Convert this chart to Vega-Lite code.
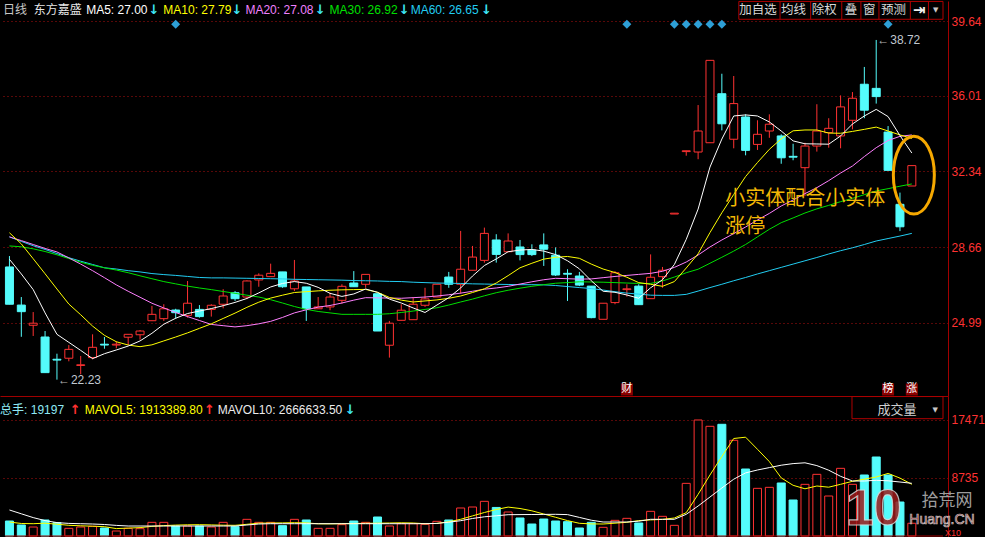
{
  "$schema": "https://vega.github.io/schema/vega-lite/v6.json",
  "background": "#000000",
  "padding": 0,
  "spacing": 0,
  "config": {"view": {"stroke": null}, "font": "Liberation Sans, Noto Sans CJK SC"},
  "datasets": {
    "k": [
      {"i":0,"o":27.70,"h":28.23,"l":25.89,"c":25.89,"v":2259,"m5":28.07,"m10":29.36,"m20":29.16,"m30":28.72,"m60":29.16,"mv5":2108,"mv10":3916},
      {"i":1,"o":25.85,"h":26.24,"l":24.31,"c":25.53,"v":1657,"m5":27.36,"m10":28.82,"m20":28.98,"m30":28.68,"m60":28.94,"mv5":1883,"mv10":3343},
      {"i":2,"o":24.87,"h":25.51,"l":24.35,"c":24.97,"v":1355,"m5":26.60,"m10":28.10,"m20":28.79,"m30":28.58,"m60":28.73,"mv5":1852,"mv10":2771},
      {"i":3,"o":24.30,"h":24.59,"l":22.57,"c":22.57,"v":2410,"m5":25.47,"m10":27.37,"m20":28.60,"m30":28.45,"m60":28.55,"mv5":1928,"mv10":2319},
      {"i":4,"o":23.22,"h":23.49,"l":22.23,"c":23.18,"v":2008,"m5":24.43,"m10":26.63,"m20":28.43,"m30":28.29,"m60":28.35,"mv5":1777,"mv10":2018},
      {"i":5,"o":23.27,"h":23.91,"l":23.12,"c":23.70,"v":1155,"m5":24.04,"m10":25.90,"m20":28.14,"m30":28.11,"m60":28.15,"mv5":1611,"mv10":1898},
      {"i":6,"o":22.92,"h":23.38,"l":22.49,"c":22.95,"v":1355,"m5":23.65,"m10":25.38,"m20":27.84,"m30":27.93,"m60":27.98,"mv5":1536,"mv10":1852},
      {"i":7,"o":23.30,"h":24.43,"l":23.22,"c":23.80,"v":1455,"m5":23.25,"m10":24.83,"m20":27.52,"m30":27.78,"m60":27.82,"mv5":1476,"mv10":1807},
      {"i":8,"o":23.95,"h":24.30,"l":23.73,"c":23.91,"v":1205,"m5":23.49,"m10":24.38,"m20":27.18,"m30":27.66,"m60":27.66,"mv5":1401,"mv10":1732},
      {"i":9,"o":23.91,"h":24.09,"l":23.75,"c":23.95,"v":753,"m5":23.67,"m10":24.07,"m20":26.83,"m30":27.55,"m60":27.60,"mv5":1114,"mv10":1596},
      {"i":10,"o":24.29,"h":24.43,"l":23.91,"c":24.43,"v":1155,"m5":23.86,"m10":23.91,"m20":26.52,"m30":27.42,"m60":27.52,"mv5":1190,"mv10":1506},
      {"i":11,"o":24.41,"h":24.64,"l":24.17,"c":24.59,"v":1104,"m5":24.11,"m10":23.83,"m20":26.23,"m30":27.27,"m60":27.46,"mv5":1265,"mv10":1506},
      {"i":12,"o":25.09,"h":25.81,"l":25.09,"c":25.40,"v":2058,"m5":24.48,"m10":23.92,"m20":25.94,"m30":27.13,"m60":27.38,"mv5":1446,"mv10":1506},
      {"i":13,"o":25.19,"h":25.89,"l":25.08,"c":25.67,"v":2058,"m5":24.92,"m10":24.11,"m20":25.71,"m30":26.99,"m60":27.33,"mv5":1566,"mv10":1506},
      {"i":14,"o":25.61,"h":25.67,"l":25.19,"c":25.48,"v":1506,"m5":25.21,"m10":24.30,"m20":25.49,"m30":26.88,"m60":27.29,"mv5":1642,"mv10":1506},
      {"i":15,"o":25.35,"h":27.02,"l":25.24,"c":25.94,"v":1506,"m5":25.44,"m10":24.50,"m20":25.29,"m30":26.77,"m60":27.24,"mv5":1687,"mv10":1506},
      {"i":16,"o":25.64,"h":25.85,"l":25.24,"c":25.29,"v":1506,"m5":25.56,"m10":24.72,"m20":25.10,"m30":26.68,"m60":27.19,"mv5":1702,"mv10":1506},
      {"i":17,"o":25.64,"h":25.89,"l":25.29,"c":25.84,"v":1355,"m5":25.68,"m10":24.94,"m20":24.91,"m30":26.60,"m60":27.17,"mv5":1672,"mv10":1506},
      {"i":18,"o":25.89,"h":26.62,"l":25.69,"c":26.29,"v":2058,"m5":25.82,"m10":25.20,"m20":24.85,"m30":26.51,"m60":27.17,"mv5":1626,"mv10":1506},
      {"i":19,"o":26.45,"h":26.53,"l":26.05,"c":26.16,"v":1405,"m5":25.98,"m10":25.46,"m20":24.79,"m30":26.42,"m60":27.16,"mv5":1611,"mv10":1506},
      {"i":20,"o":26.24,"h":27.05,"l":26.14,"c":27.02,"v":2510,"m5":26.17,"m10":25.74,"m20":24.85,"m30":26.33,"m60":27.15,"mv5":1762,"mv10":1657},
      {"i":21,"o":27.07,"h":27.39,"l":26.74,"c":27.30,"v":2058,"m5":26.44,"m10":25.99,"m20":24.94,"m30":26.24,"m60":27.14,"mv5":1928,"mv10":1807},
      {"i":22,"o":27.23,"h":27.86,"l":27.23,"c":27.39,"v":2058,"m5":26.73,"m10":26.19,"m20":25.06,"m30":26.11,"m60":27.13,"mv5":1958,"mv10":1852},
      {"i":23,"o":27.46,"h":27.46,"l":26.69,"c":26.74,"v":1556,"m5":26.90,"m10":26.33,"m20":25.25,"m30":25.95,"m60":27.12,"mv5":1973,"mv10":1852},
      {"i":24,"o":26.64,"h":28.04,"l":26.53,"c":27.02,"v":2510,"m5":26.99,"m10":26.46,"m20":25.47,"m30":25.78,"m60":27.10,"mv5":2003,"mv10":1852},
      {"i":25,"o":26.73,"h":26.73,"l":25.08,"c":25.67,"v":2410,"m5":26.91,"m10":26.50,"m20":25.62,"m30":25.64,"m60":27.09,"mv5":1973,"mv10":1852},
      {"i":26,"o":25.67,"h":26.24,"l":25.67,"c":25.76,"v":1155,"m5":26.71,"m10":26.54,"m20":25.75,"m30":25.54,"m60":27.08,"mv5":1837,"mv10":1852},
      {"i":27,"o":25.76,"h":26.45,"l":25.60,"c":26.24,"v":1155,"m5":26.42,"m10":26.57,"m20":25.83,"m30":25.47,"m60":27.07,"mv5":1822,"mv10":1852},
      {"i":28,"o":26.08,"h":26.86,"l":25.92,"c":26.76,"v":1707,"m5":26.27,"m10":26.59,"m20":25.95,"m30":25.40,"m60":27.06,"mv5":1852,"mv10":1852},
      {"i":29,"o":26.92,"h":27.50,"l":26.74,"c":26.74,"v":2259,"m5":26.39,"m10":26.60,"m20":26.09,"m30":25.40,"m60":27.04,"mv5":1883,"mv10":1852},
      {"i":30,"o":26.86,"h":27.34,"l":26.69,"c":27.34,"v":2058,"m5":26.63,"m10":26.61,"m20":26.21,"m30":25.40,"m60":27.03,"mv5":1913,"mv10":1852},
      {"i":31,"o":26.40,"h":26.42,"l":24.59,"c":24.59,"v":2861,"m5":26.47,"m10":26.47,"m20":26.20,"m30":25.40,"m60":27.02,"mv5":1928,"mv10":1852},
      {"i":32,"o":23.90,"h":25.08,"l":23.30,"c":24.97,"v":1506,"m5":26.14,"m10":26.22,"m20":26.19,"m30":25.43,"m60":27.00,"mv5":1958,"mv10":1852},
      {"i":33,"o":25.11,"h":25.89,"l":25.11,"c":25.60,"v":1857,"m5":25.95,"m10":26.09,"m20":26.18,"m30":25.49,"m60":26.99,"mv5":1988,"mv10":1852},
      {"i":34,"o":25.14,"h":26.24,"l":25.14,"c":25.89,"v":1857,"m5":25.71,"m10":26.00,"m20":26.21,"m30":25.56,"m60":26.96,"mv5":1958,"mv10":1852},
      {"i":35,"o":25.84,"h":26.69,"l":25.76,"c":26.15,"v":1757,"m5":25.49,"m10":26.05,"m20":26.24,"m30":25.64,"m60":26.94,"mv5":1852,"mv10":1852},
      {"i":36,"o":26.24,"h":26.86,"l":26.24,"c":26.86,"v":2209,"m5":25.85,"m10":26.10,"m20":26.29,"m30":25.72,"m60":26.92,"mv5":1898,"mv10":1898},
      {"i":37,"o":27.21,"h":27.46,"l":26.69,"c":26.86,"v":2410,"m5":26.21,"m10":26.18,"m20":26.35,"m30":25.85,"m60":26.91,"mv5":2139,"mv10":2078},
      {"i":38,"o":26.86,"h":29.45,"l":26.40,"c":27.59,"v":4217,"m5":26.68,"m10":26.29,"m20":26.43,"m30":26.00,"m60":26.90,"mv5":2515,"mv10":2304},
      {"i":39,"o":27.54,"h":28.72,"l":27.54,"c":28.18,"v":4367,"m5":27.26,"m10":26.46,"m20":26.52,"m30":26.14,"m60":26.88,"mv5":3027,"mv10":2636},
      {"i":40,"o":28.02,"h":29.61,"l":27.91,"c":29.33,"v":5220,"m5":27.77,"m10":26.64,"m20":26.62,"m30":26.30,"m60":26.87,"mv5":3539,"mv10":2892},
      {"i":41,"o":29.01,"h":29.29,"l":27.91,"c":28.31,"v":4300,"m5":28.09,"m10":26.92,"m20":26.68,"m30":26.45,"m60":26.86,"mv5":3991,"mv10":3042},
      {"i":42,"o":28.44,"h":29.33,"l":28.44,"c":28.96,"v":3614,"m5":28.44,"m10":27.28,"m20":26.76,"m30":26.57,"m60":26.85,"mv5":4352,"mv10":3208},
      {"i":43,"o":28.67,"h":29.01,"l":28.02,"c":28.30,"v":2711,"m5":28.52,"m10":27.66,"m20":26.87,"m30":26.67,"m60":26.84,"mv5":4141,"mv10":3223},
      {"i":44,"o":28.52,"h":28.80,"l":28.23,"c":28.30,"v":1807,"m5":28.55,"m10":27.88,"m20":26.98,"m30":26.76,"m60":26.84,"mv5":3795,"mv10":3238},
      {"i":45,"o":28.77,"h":29.33,"l":27.75,"c":28.56,"v":2560,"m5":28.47,"m10":28.08,"m20":27.08,"m30":26.84,"m60":26.83,"mv5":3313,"mv10":3253},
      {"i":46,"o":28.27,"h":28.65,"l":27.26,"c":27.31,"v":2259,"m5":28.30,"m10":28.17,"m20":27.15,"m30":26.91,"m60":26.80,"mv5":2816,"mv10":3268},
      {"i":47,"o":27.39,"h":27.59,"l":26.05,"c":27.35,"v":2159,"m5":28.00,"m10":28.21,"m20":27.13,"m30":26.94,"m60":26.75,"mv5":2319,"mv10":3223},
      {"i":48,"o":27.26,"h":27.46,"l":26.77,"c":26.82,"v":1205,"m5":27.61,"m10":28.12,"m20":27.11,"m30":26.98,"m60":26.70,"mv5":1913,"mv10":2801},
      {"i":49,"o":26.77,"h":26.77,"l":25.21,"c":25.24,"v":2058,"m5":27.03,"m10":27.84,"m20":27.12,"m30":26.97,"m60":26.65,"mv5":1822,"mv10":2379},
      {"i":50,"o":25.16,"h":25.94,"l":25.16,"c":25.94,"v":1305,"m5":26.52,"m10":27.60,"m20":27.18,"m30":26.96,"m60":26.58,"mv5":1807,"mv10":2108},
      {"i":51,"o":25.97,"h":27.50,"l":25.89,"c":27.42,"v":2359,"m5":26.47,"m10":27.43,"m20":27.24,"m30":26.94,"m60":26.50,"mv5":1928,"mv10":2108},
      {"i":52,"o":26.60,"h":26.86,"l":26.26,"c":26.64,"v":2661,"m5":26.34,"m10":27.20,"m20":27.29,"m30":26.92,"m60":26.43,"mv5":2063,"mv10":2108},
      {"i":53,"o":26.77,"h":26.86,"l":25.87,"c":25.87,"v":1958,"m5":26.18,"m10":26.94,"m20":27.34,"m30":26.90,"m60":26.38,"mv5":2319,"mv10":2229},
      {"i":54,"o":26.16,"h":28.31,"l":26.16,"c":27.20,"v":3714,"m5":26.69,"m10":26.86,"m20":27.39,"m30":26.90,"m60":26.33,"mv5":2425,"mv10":2515},
      {"i":55,"o":27.23,"h":27.70,"l":26.69,"c":27.54,"v":2962,"m5":27.08,"m10":26.76,"m20":27.49,"m30":27.02,"m60":26.32,"mv5":2500,"mv10":2515},
      {"i":56,"o":30.27,"h":30.31,"l":30.27,"c":30.31,"v":1606,"m5":27.82,"m10":26.99,"m20":27.68,"m30":27.21,"m60":26.32,"mv5":2711,"mv10":2515},
      {"i":57,"o":33.30,"h":33.34,"l":33.10,"c":33.34,"v":7930,"m5":29.04,"m10":27.65,"m20":27.94,"m30":27.42,"m60":26.37,"mv5":3509,"mv10":3268},
      {"i":58,"o":33.28,"h":35.56,"l":32.93,"c":34.30,"v":17471,"m5":30.51,"m10":28.34,"m20":28.28,"m30":27.59,"m60":26.53,"mv5":6280,"mv10":4518},
      {"i":59,"o":33.73,"h":37.73,"l":33.73,"c":37.73,"v":16520,"m5":32.55,"m10":29.37,"m20":28.67,"m30":27.88,"m60":26.70,"mv5":9187,"mv10":5873},
      {"i":60,"o":36.11,"h":37.08,"l":34.33,"c":34.65,"v":16821,"m5":33.91,"m10":30.33,"m20":29.01,"m30":28.17,"m60":26.86,"mv5":11973,"mv10":7229},
      {"i":61,"o":33.90,"h":36.97,"l":33.46,"c":35.63,"v":14413,"m5":35.03,"m10":31.22,"m20":29.32,"m30":28.47,"m60":27.03,"mv5":14684,"mv10":8554},
      {"i":62,"o":34.98,"h":35.11,"l":33.12,"c":33.36,"v":10090,"m5":35.08,"m10":32.09,"m20":29.64,"m30":28.79,"m60":27.19,"mv5":14879,"mv10":9503},
      {"i":63,"o":33.65,"h":34.82,"l":33.38,"c":34.14,"v":7178,"m5":35.03,"m10":32.77,"m20":29.98,"m30":29.16,"m60":27.36,"mv5":13057,"mv10":9940},
      {"i":64,"o":34.30,"h":35.11,"l":33.97,"c":34.63,"v":7330,"m5":34.74,"m10":33.41,"m20":30.30,"m30":29.53,"m60":27.52,"mv5":11205,"mv10":10301},
      {"i":65,"o":34.06,"h":34.14,"l":32.71,"c":33.00,"v":7982,"m5":34.30,"m10":33.92,"m20":30.66,"m30":29.85,"m60":27.68,"mv5":8750,"mv10":10662},
      {"i":66,"o":33.07,"h":33.68,"l":32.88,"c":33.03,"v":5422,"m5":33.82,"m10":34.31,"m20":30.95,"m30":30.08,"m60":27.84,"mv5":7635,"mv10":10903},
      {"i":67,"o":32.52,"h":33.73,"l":31.14,"c":33.57,"v":7780,"m5":33.68,"m10":34.35,"m20":31.26,"m30":30.32,"m60":28.00,"mv5":7108,"mv10":11024},
      {"i":68,"o":33.57,"h":35.60,"l":33.30,"c":34.30,"v":9287,"m5":33.67,"m10":34.35,"m20":31.55,"m30":30.52,"m60":28.16,"mv5":7530,"mv10":10602},
      {"i":69,"o":34.22,"h":34.92,"l":33.49,"c":34.43,"v":6024,"m5":33.66,"m10":34.20,"m20":31.89,"m30":30.69,"m60":28.33,"mv5":7349,"mv10":9909},
      {"i":70,"o":34.06,"h":36.03,"l":33.46,"c":35.47,"v":10190,"m5":34.06,"m10":34.19,"m20":32.26,"m30":30.87,"m60":28.49,"mv5":7786,"mv10":8991},
      {"i":71,"o":34.82,"h":36.19,"l":34.38,"c":35.89,"v":7780,"m5":34.64,"m10":34.28,"m20":32.60,"m30":31.03,"m60":28.63,"mv5":8238,"mv10":8283},
      {"i":72,"o":36.57,"h":37.41,"l":34.92,"c":35.31,"v":9187,"m5":35.03,"m10":34.38,"m20":33.06,"m30":31.21,"m60":28.79,"mv5":8554,"mv10":8283},
      {"i":73,"o":36.37,"h":38.72,"l":35.63,"c":35.97,"v":11897,"m5":35.35,"m10":34.49,"m20":33.49,"m30":31.39,"m60":28.96,"mv5":8885,"mv10":8388},
      {"i":74,"o":34.25,"h":34.54,"l":32.39,"c":32.39,"v":9187,"m5":35.00,"m10":34.30,"m20":33.84,"m30":31.50,"m60":29.08,"mv5":9428,"mv10":8313},
      {"i":75,"o":30.74,"h":31.31,"l":29.44,"c":29.65,"v":5120,"m5":34.08,"m10":34.11,"m20":34.04,"m30":31.62,"m60":29.20,"mv5":8720,"mv10":8132},
      {"i":76,"o":31.63,"h":32.62,"l":31.63,"c":32.62,"v":1920,"m5":33.23,"m10":33.94,"m20":34.11,"m30":31.73,"m60":29.33,"mv5":7786,"mv10":7937}
    ],
    "events": [{"i":14},{"i":52},{"i":56},{"i":57},{"i":58},{"i":59},{"i":60},{"i":74}],
    "notes": [{"i":52,"t":"财"},{"i":74,"t":"榜"},{"i":76,"t":"涨"}],
    "one": [{}]
  },
  "vconcat": [
    {
      "width": 948,
      "height": 395,
      "layer": [
        {"data": {"name": "k"}, "mark": {"type": "rule", "strokeWidth": 1},
         "encoding": {
           "x": {"field": "i", "type": "quantitative", "scale": {"domain": [-0.375, 78.625], "nice": false, "zero": false},
                 "axis": {"orient": "bottom", "labels": false, "ticks": false, "domain": false, "grid": false, "title": null}},
           "y": {"field": "l", "type": "quantitative", "scale": {"domain": [21.436, 40.611], "nice": false, "zero": false},
                 "axis": {"orient": "right", "values": [24.99, 28.66, 32.34, 36.01, 39.64], "format": ".2f", "title": null, "ticks": false, "domain": true, "domainColor": "#a00000", "labelColor": "#ff3232", "labelFontSize": 12, "labelPadding": 3, "labelFont": "Liberation Sans", "grid": true, "gridColor": "#b01010", "gridDash": [1, 3], "gridWidth": 1}},
           "y2": {"field": "h"},
           "color": {"condition": {"test": "datum.c < datum.o", "value": "#54fcfc"}, "value": "#ff3232"}}},
        {"data": {"name": "k"}, "mark": {"type": "bar", "size": 8, "strokeWidth": 1},
         "encoding": {
           "x": {"field": "i", "type": "quantitative"},
           "y": {"field": "o", "type": "quantitative"},
           "y2": {"field": "c"},
           "fill": {"condition": {"test": "datum.c < datum.o", "value": "#54fcfc"}, "value": "#000000"},
           "stroke": {"condition": {"test": "datum.c < datum.o", "value": "#54fcfc"}, "value": "#ff3232"}}},
        {"data": {"name": "k"}, "mark": {"type": "line", "color": "#22cdf2", "strokeWidth": 1}, "encoding": {"x": {"field": "i", "type": "quantitative"}, "y": {"field": "m60", "type": "quantitative"}}},
        {"data": {"name": "k"}, "mark": {"type": "line", "color": "#00e000", "strokeWidth": 1}, "encoding": {"x": {"field": "i", "type": "quantitative"}, "y": {"field": "m30", "type": "quantitative"}}},
        {"data": {"name": "k"}, "mark": {"type": "line", "color": "#ff80ff", "strokeWidth": 1}, "encoding": {"x": {"field": "i", "type": "quantitative"}, "y": {"field": "m20", "type": "quantitative"}}},
        {"data": {"name": "k"}, "mark": {"type": "line", "color": "#ffff00", "strokeWidth": 1}, "encoding": {"x": {"field": "i", "type": "quantitative"}, "y": {"field": "m10", "type": "quantitative"}}},
        {"data": {"name": "k"}, "mark": {"type": "line", "color": "#ffffff", "strokeWidth": 1}, "encoding": {"x": {"field": "i", "type": "quantitative"}, "y": {"field": "m5", "type": "quantitative"}}},
        {"data": {"name": "events"}, "mark": {"type": "point", "shape": "diamond", "filled": true, "size": 80, "color": "#2e9fd6", "opacity": 1},
         "encoding": {"x": {"field": "i", "type": "quantitative"}, "y": {"datum": 39.48}}},
        {"data": {"name": "notes"}, "mark": {"type": "square", "size": 144, "color": "#8b0000", "opacity": 1},
         "encoding": {"x": {"field": "i", "type": "quantitative"}, "y": {"datum": 21.752}}},
        {"data": {"name": "notes"}, "mark": {"type": "text", "color": "#ffffff", "fontSize": 11, "font": "Noto Sans CJK SC", "baseline": "middle"},
         "encoding": {"x": {"field": "i", "type": "quantitative"}, "y": {"datum": 21.752}, "text": {"field": "t"}}},
        {"data": {"name": "k"}, "transform": [{"filter": "datum.i == 73"}], "mark": {"type": "text", "text": "←", "align": "left", "baseline": "middle", "dx": 1, "color": "#b4b4b4", "fontSize": 12},
         "encoding": {"x": {"field": "i", "type": "quantitative"}, "y": {"field": "h", "type": "quantitative"}}},
        {"data": {"name": "k"}, "transform": [{"filter": "datum.i == 73"}], "mark": {"type": "text", "align": "left", "baseline": "middle", "dx": 14, "color": "#c0c8d0", "fontSize": 12},
         "encoding": {"x": {"field": "i", "type": "quantitative"}, "y": {"field": "h", "type": "quantitative"}, "text": {"field": "h", "type": "quantitative", "format": ".2f"}}},
        {"data": {"name": "k"}, "transform": [{"filter": "datum.i == 4"}], "mark": {"type": "text", "text": "←", "align": "left", "baseline": "middle", "dx": 1, "color": "#b4b4b4", "fontSize": 12},
         "encoding": {"x": {"field": "i", "type": "quantitative"}, "y": {"field": "l", "type": "quantitative"}}},
        {"data": {"name": "k"}, "transform": [{"filter": "datum.i == 4"}], "mark": {"type": "text", "align": "left", "baseline": "middle", "dx": 14, "color": "#c0c8d0", "fontSize": 12},
         "encoding": {"x": {"field": "i", "type": "quantitative"}, "y": {"field": "l", "type": "quantitative"}, "text": {"field": "l", "type": "quantitative", "format": ".2f"}}},

        {"data": {"name": "one"}, "mark": {"type": "text", "text": "日线", "align": "left", "baseline": "middle", "fontSize": 12, "color": "#c8c8c8", "clip": true},
         "encoding": {"x": {"datum": -0.54}, "y": {"datum": 40.174}}},
        {"data": {"name": "one"}, "mark": {"type": "text", "text": "东方嘉盛", "align": "left", "baseline": "middle", "fontSize": 12, "color": "#e6e6e6"},
         "encoding": {"x": {"datum": 2.04}, "y": {"datum": 40.174}}},
        {"data": {"name": "one"}, "mark": {"type": "text", "text": "MA5: 27.00", "align": "left", "baseline": "middle", "fontSize": 12, "color": "#ffffff"},
         "encoding": {"x": {"datum": 6.46}, "y": {"datum": 40.174}}},
        {"data": {"name": "one"}, "mark": {"type": "text", "text": "↓", "align": "left", "baseline": "middle", "fontSize": 13, "fontWeight": "bold", "font": "DejaVu Sans", "color": "#3ee6f5"},
         "encoding": {"x": {"datum": 11.71}, "y": {"datum": 40.174}}},
        {"data": {"name": "one"}, "mark": {"type": "text", "text": "MA10: 27.79", "align": "left", "baseline": "middle", "fontSize": 12, "color": "#ffff00"},
         "encoding": {"x": {"datum": 12.96}, "y": {"datum": 40.174}}},
        {"data": {"name": "one"}, "mark": {"type": "text", "text": "↓", "align": "left", "baseline": "middle", "fontSize": 13, "fontWeight": "bold", "font": "DejaVu Sans", "color": "#3ee6f5"},
         "encoding": {"x": {"datum": 18.71}, "y": {"datum": 40.174}}},
        {"data": {"name": "one"}, "mark": {"type": "text", "text": "MA20: 27.08", "align": "left", "baseline": "middle", "fontSize": 12, "color": "#f080ff"},
         "encoding": {"x": {"datum": 19.875}, "y": {"datum": 40.174}}},
        {"data": {"name": "one"}, "mark": {"type": "text", "text": "↓", "align": "left", "baseline": "middle", "fontSize": 13, "fontWeight": "bold", "font": "DejaVu Sans", "color": "#3ee6f5"},
         "encoding": {"x": {"datum": 25.71}, "y": {"datum": 40.174}}},
        {"data": {"name": "one"}, "mark": {"type": "text", "text": "MA30: 26.92", "align": "left", "baseline": "middle", "fontSize": 12, "color": "#00e000"},
         "encoding": {"x": {"datum": 26.96}, "y": {"datum": 40.174}}},
        {"data": {"name": "one"}, "mark": {"type": "text", "text": "↓", "align": "left", "baseline": "middle", "fontSize": 13, "fontWeight": "bold", "font": "DejaVu Sans", "color": "#3ee6f5"},
         "encoding": {"x": {"datum": 32.79}, "y": {"datum": 40.174}}},
        {"data": {"name": "one"}, "mark": {"type": "text", "text": "MA60: 26.65", "align": "left", "baseline": "middle", "fontSize": 12, "color": "#22cdf2"},
         "encoding": {"x": {"datum": 33.79}, "y": {"datum": 40.174}}},
        {"data": {"name": "one"}, "mark": {"type": "text", "text": "↓", "align": "left", "baseline": "middle", "fontSize": 13, "fontWeight": "bold", "font": "DejaVu Sans", "color": "#3ee6f5"},
         "encoding": {"x": {"datum": 39.71}, "y": {"datum": 40.174}}},

        {"data": {"name": "one"}, "mark": {"type": "rect", "fill": "#000000", "stroke": "#b00000", "strokeWidth": 1},
         "encoding": {"x": {"datum": 61.43}, "x2": {"datum": 78.625}, "y": {"datum": 40.59}, "y2": {"datum": 39.723}}},
        {"data": {"name": "one"}, "mark": {"type": "rule", "color": "#b00000"}, "encoding": {"x": {"datum": 64.9}, "y": {"datum": 40.59}, "y2": {"datum": 39.723}}},
        {"data": {"name": "one"}, "mark": {"type": "rule", "color": "#b00000"}, "encoding": {"x": {"datum": 67.48}, "y": {"datum": 40.59}, "y2": {"datum": 39.723}}},
        {"data": {"name": "one"}, "mark": {"type": "rule", "color": "#b00000"}, "encoding": {"x": {"datum": 70.1}, "y": {"datum": 40.59}, "y2": {"datum": 39.723}}},
        {"data": {"name": "one"}, "mark": {"type": "rule", "color": "#b00000"}, "encoding": {"x": {"datum": 71.71}, "y": {"datum": 40.59}, "y2": {"datum": 39.723}}},
        {"data": {"name": "one"}, "mark": {"type": "rule", "color": "#b00000"}, "encoding": {"x": {"datum": 73.23}, "y": {"datum": 40.59}, "y2": {"datum": 39.723}}},
        {"data": {"name": "one"}, "mark": {"type": "rule", "color": "#b00000"}, "encoding": {"x": {"datum": 75.875}, "y": {"datum": 40.59}, "y2": {"datum": 39.723}}},
        {"data": {"name": "one"}, "mark": {"type": "rule", "color": "#b00000"}, "encoding": {"x": {"datum": 77.4}, "y": {"datum": 40.59}, "y2": {"datum": 39.723}}},
        {"data": {"name": "one"}, "mark": {"type": "text", "text": "加自选", "align": "center", "baseline": "middle", "fontSize": 12.5, "color": "#d8d8d8", "font": "Noto Sans CJK SC"},
         "encoding": {"x": {"datum": 63.04}, "y": {"datum": 40.174}}},
        {"data": {"name": "one"}, "mark": {"type": "text", "text": "均线", "align": "center", "baseline": "middle", "fontSize": 12.5, "color": "#d8d8d8", "font": "Noto Sans CJK SC"},
         "encoding": {"x": {"datum": 66.04}, "y": {"datum": 40.174}}},
        {"data": {"name": "one"}, "mark": {"type": "text", "text": "除权", "align": "center", "baseline": "middle", "fontSize": 12.5, "color": "#d8d8d8", "font": "Noto Sans CJK SC"},
         "encoding": {"x": {"datum": 68.625}, "y": {"datum": 40.174}}},
        {"data": {"name": "one"}, "mark": {"type": "text", "text": "叠", "align": "center", "baseline": "middle", "fontSize": 12.5, "color": "#d8d8d8", "font": "Noto Sans CJK SC"},
         "encoding": {"x": {"datum": 70.875}, "y": {"datum": 40.174}}},
        {"data": {"name": "one"}, "mark": {"type": "text", "text": "窗", "align": "center", "baseline": "middle", "fontSize": 12.5, "color": "#d8d8d8", "font": "Noto Sans CJK SC"},
         "encoding": {"x": {"datum": 72.42}, "y": {"datum": 40.174}}},
        {"data": {"name": "one"}, "mark": {"type": "text", "text": "预测", "align": "center", "baseline": "middle", "fontSize": 12.5, "color": "#d8d8d8", "font": "Noto Sans CJK SC"},
         "encoding": {"x": {"datum": 74.46}, "y": {"datum": 40.174}}},
        {"data": {"name": "one"}, "mark": {"type": "text", "text": "⇥", "align": "center", "baseline": "middle", "fontSize": 15, "fontWeight": "bold", "color": "#f0f0f0", "font": "DejaVu Sans"},
         "encoding": {"x": {"datum": 76.625}, "y": {"datum": 40.174}}},
        {"data": {"name": "one"}, "mark": {"type": "text", "text": "▼", "align": "center", "baseline": "middle", "fontSize": 7, "color": "#c8c8c8", "font": "DejaVu Sans"},
         "encoding": {"x": {"datum": 78.0}, "y": {"datum": 40.174}}},

        {"data": {"name": "one"}, "mark": {"type": "text", "text": "小实体配合小实体", "align": "left", "baseline": "middle", "fontSize": 20, "color": "#f2b705", "font": "Noto Sans CJK SC"},
         "encoding": {"x": {"datum": 60.29}, "y": {"datum": 31.0}}},
        {"data": {"name": "one"}, "mark": {"type": "text", "text": "涨停", "align": "left", "baseline": "middle", "fontSize": 20, "color": "#f2b705", "font": "Noto Sans CJK SC"},
         "encoding": {"x": {"datum": 60.29}, "y": {"datum": 29.64}}},
        {"data": {"name": "one"}, "mark": {"type": "point", "shape": "M0,-1.9A1,1.9,0,1,1,0,1.9A1,1.9,0,1,1,0,-1.9Z", "size": 1681, "filled": false, "color": "#f5a800", "strokeWidth": 3, "opacity": 1},
         "encoding": {"x": {"datum": 76.17}, "y": {"datum": 32.16}}}
      ]
    },
    {
      "width": 948,
      "height": 142,
      "layer": [
        {"data": {"name": "k"}, "mark": {"type": "bar", "size": 8, "strokeWidth": 1},
         "encoding": {
           "x": {"field": "i", "type": "quantitative", "scale": {"domain": [-0.375, 78.625], "nice": false, "zero": false},
                 "axis": {"orient": "top", "labels": false, "ticks": false, "grid": false, "title": null, "domain": true, "domainColor": "#a00000"}},
           "y": {"field": "v", "type": "quantitative", "scale": {"domain": [-301, 21084], "nice": false, "zero": false},
                 "axis": {"orient": "right", "values": [8735, 17471], "format": "d", "title": null, "ticks": false, "domain": true, "domainColor": "#a00000", "labelColor": "#ff3232", "labelFontSize": 12, "labelPadding": 3, "labelFont": "Liberation Sans", "grid": true, "gridColor": "#b01010", "gridDash": [1, 3], "gridWidth": 1}},
           "y2": {"datum": 0},
           "fill": {"condition": {"test": "datum.c < datum.o", "value": "#54fcfc"}, "value": "#000000"},
           "stroke": {"condition": {"test": "datum.c < datum.o", "value": "#54fcfc"}, "value": "#ff3232"}}},
        {"data": {"name": "k"}, "mark": {"type": "line", "color": "#ffff00", "strokeWidth": 1}, "encoding": {"x": {"field": "i", "type": "quantitative"}, "y": {"field": "mv5", "type": "quantitative"}}},
        {"data": {"name": "k"}, "mark": {"type": "line", "color": "#ffffff", "strokeWidth": 1}, "encoding": {"x": {"field": "i", "type": "quantitative"}, "y": {"field": "mv10", "type": "quantitative"}}},
        {"data": {"name": "one"}, "mark": {"type": "rule", "color": "#a00000"},
         "encoding": {"x": {"datum": -0.375}, "x2": {"datum": 78.625}, "y": {"datum": 0}}},

        {"data": {"name": "one"}, "mark": {"type": "text", "text": "总手: 19197", "align": "left", "baseline": "middle", "fontSize": 12, "color": "#8fe9f5", "clip": true},
         "encoding": {"x": {"datum": -0.79}, "y": {"datum": 18976}}},
        {"data": {"name": "one"}, "mark": {"type": "text", "text": "↑", "align": "left", "baseline": "middle", "fontSize": 13, "fontWeight": "bold", "font": "DejaVu Sans", "color": "#ff3030"},
         "encoding": {"x": {"datum": 5.08}, "y": {"datum": 18976}}},
        {"data": {"name": "one"}, "mark": {"type": "text", "text": "MAVOL5: 1913389.80", "align": "left", "baseline": "middle", "fontSize": 12, "color": "#ffff00"},
         "encoding": {"x": {"datum": 6.35}, "y": {"datum": 18976}}},
        {"data": {"name": "one"}, "mark": {"type": "text", "text": "↑", "align": "left", "baseline": "middle", "fontSize": 13, "fontWeight": "bold", "font": "DejaVu Sans", "color": "#ff3030"},
         "encoding": {"x": {"datum": 16.375}, "y": {"datum": 18976}}},
        {"data": {"name": "one"}, "mark": {"type": "text", "text": "MAVOL10: 2666633.50", "align": "left", "baseline": "middle", "fontSize": 12, "color": "#ececec"},
         "encoding": {"x": {"datum": 17.54}, "y": {"datum": 18976}}},
        {"data": {"name": "one"}, "mark": {"type": "text", "text": "↓", "align": "left", "baseline": "middle", "fontSize": 13, "fontWeight": "bold", "font": "DejaVu Sans", "color": "#3ee6f5"},
         "encoding": {"x": {"datum": 28.23}, "y": {"datum": 18976}}},

        {"data": {"name": "one"}, "mark": {"type": "rect", "fill": "#000000", "stroke": "#b00000", "strokeWidth": 1},
         "encoding": {"x": {"datum": 70.96}, "x2": {"datum": 78.625}, "y": {"datum": 21000}, "y2": {"datum": 17665}}},
        {"data": {"name": "one"}, "mark": {"type": "text", "text": "成交量", "align": "center", "baseline": "middle", "fontSize": 13, "color": "#d0d0d0", "font": "Noto Sans CJK SC"},
         "encoding": {"x": {"datum": 74.75}, "y": {"datum": 18976}}},
        {"data": {"name": "one"}, "mark": {"type": "text", "text": "▼", "align": "center", "baseline": "middle", "fontSize": 7, "color": "#c8c8c8", "font": "DejaVu Sans"},
         "encoding": {"x": {"datum": 77.96}, "y": {"datum": 18976}}},
        {"data": {"name": "one"}, "mark": {"type": "text", "text": "X10", "align": "left", "baseline": "middle", "fontSize": 9, "color": "#ff3232"},
         "encoding": {"x": {"datum": 78.79}, "y": {"datum": 452}}},

        {"data": {"name": "one"}, "mark": {"type": "text", "text": "10", "align": "center", "baseline": "middle", "fontSize": 50, "fontWeight": "bold", "color": "#9c1a1a", "stroke": "#d8d8d8", "strokeWidth": 1.2, "opacity": 0.85},
         "encoding": {"x": {"datum": 72.79}, "y": {"datum": 3916}}},
        {"data": {"name": "one"}, "mark": {"type": "text", "text": "拾荒网", "align": "center", "baseline": "middle", "fontSize": 17, "color": "#b8b8b8", "font": "Noto Sans CJK SC", "opacity": 0.85},
         "encoding": {"x": {"datum": 78.96}, "y": {"datum": 5271}}},
        {"data": {"name": "one"}, "mark": {"type": "text", "text": "Huang.CN", "align": "center", "baseline": "middle", "fontSize": 14, "color": "#a01818", "stroke": "#d8d8d8", "strokeWidth": 0.7, "opacity": 0.9},
         "encoding": {"x": {"datum": 78.54}, "y": {"datum": 2410}}}
      ]
    }
  ]
}
